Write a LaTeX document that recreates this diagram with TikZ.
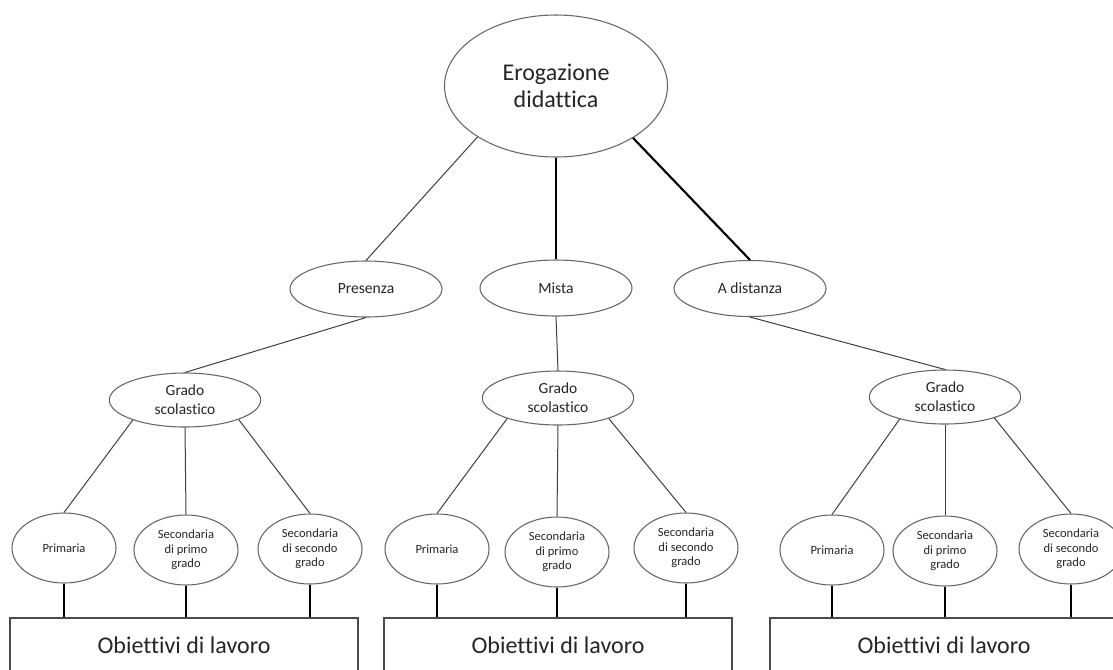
\documentclass[tikz,border=0pt]{standalone}
\usepackage{fontspec}
\setmainfont[Ligatures=NoCommon]{Carlito}
\usetikzlibrary{shapes.geometric}
\begin{document}
\begin{tikzpicture}[x=0.75pt,y=-0.75pt,
  oval/.style={ellipse, draw=black!60, line width=0.8pt, inner sep=0pt, align=center, text=black!85},
  topoval/.style={oval, minimum width=167.25pt, minimum height=106.5pt, font=\fontsize{18}{20.25}\selectfont},
  modeoval/.style={oval, minimum width=114pt, minimum height=42pt, font=\fontsize{11.7}{14}\selectfont},
  gradeoval/.style={oval, minimum width=113.5pt, minimum height=40.5pt, font=\fontsize{11.6}{14.25}\selectfont},
  leafoval/.style={oval, minimum width=78pt, minimum height=52.5pt, font=\fontsize{9.4}{10.75}\selectfont},
  goalbox/.style={draw=black!70, line width=0.8pt, minimum width=261pt, minimum height=40.5pt, inner sep=0pt, font=\fontsize{18}{20}\selectfont, text=black!85},
  thinlink/.style={draw=black!75, line width=0.75pt},
  thicklink/.style={draw=black, line width=1.6pt}
]
\clip (0,0) rectangle (1113,669);
\fill[white] (0,0) rectangle (1113,669);

% top level
\node[topoval] (top) at (556,86) {Erogazione\\didattica};
\node[modeoval] (pres) at (366,289) {Presenza};
\node[modeoval] (mista) at (556,288) {Mista};
\node[modeoval] (dist) at (750,288.5) {A distanza};

% grade level
\node[gradeoval] (g1) at (185,400) {Grado\\scolastico};
\node[gradeoval] (g2) at (558,398) {Grado\\scolastico};
\node[gradeoval] (g3) at (945,397) {Grado\\scolastico};

% leaves
\node[leafoval] (p1) at (64,548) {Primaria};
\node[leafoval] (s1a) at (186,550) {Secondaria\\di primo\\grado};
\node[leafoval] (s1b) at (310,549) {Secondaria\\di secondo\\grado};
\node[leafoval] (p2) at (437,549) {Primaria};
\node[leafoval] (s2a) at (557,552) {Secondaria\\di primo\\grado};
\node[leafoval] (s2b) at (686,548) {Secondaria\\di secondo\\grado};
\node[leafoval] (p3) at (832,550) {Primaria};
\node[leafoval] (s3a) at (945,551) {Secondaria\\di primo\\grado};
\node[leafoval] (s3b) at (1071,549) {Secondaria\\di secondo\\grado};

% goal boxes
\node[goalbox] (b1) at (184,645) {Obiettivi di lavoro};
\node[goalbox] (b2) at (558,645) {Obiettivi di lavoro};
\node[goalbox] (b3) at (944,645) {Obiettivi di lavoro};

% connectors
\draw[thinlink] (top.213) -- (pres.north);
\draw[thicklink] (top.south) -- (mista.north);
\draw[thicklink] (top.326) -- (dist.north);

\draw[thinlink] (pres.south) -- (g1.north);
\draw[thinlink] (mista.south) -- (g2.north);
\draw[thinlink] (dist.south) -- (g3.north);

\draw[thinlink] (g1.201) -- (p1.north);
\draw[thinlink] (g1.south) -- (s1a.north);
\draw[thinlink] (g1.340) -- (s1b.north);
\draw[thinlink] (g2.202) -- (p2.north);
\draw[thinlink] (g2.south) -- (s2a.north);
\draw[thinlink] (g2.338) -- (s2b.north);
\draw[thinlink] (g3.206) -- (p3.north);
\draw[thinlink] (g3.south) -- (s3a.north);
\draw[thinlink] (g3.337) -- (s3b.north);

\foreach \leaf/\goal in {p1/b1,s1a/b1,s1b/b1,p2/b2,s2a/b2,s2b/b2,p3/b3,s3a/b3,s3b/b3}
  \draw[thicklink] (\leaf.south) -- (\leaf.south |- \goal.north);
\end{tikzpicture}
\end{document}
